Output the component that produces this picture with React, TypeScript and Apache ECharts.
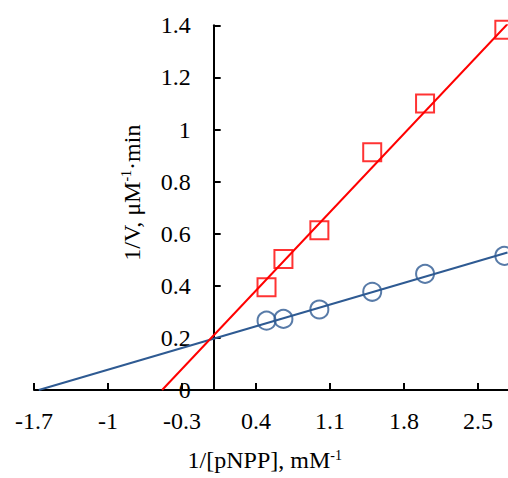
import React, { useEffect, useRef } from 'react';
import * as echarts from 'echarts';

// data
const xValues = [0.5, 0.66, 1, 1.5, 2, 2.75];
const controlY = [0.266, 0.273, 0.309, 0.377, 0.446, 0.515];
const inhibitorY = [0.394, 0.503, 0.613, 0.913, 1.1, 1.383];
const controlFitX = [-1.655, 2.78];
const controlFitY = [0, 0.528];
const inhibitorFitX = [-0.488, 2.78];
const inhibitorFitY = [0, 1.405];
const xTickValues = [-1.7, -1, -0.3, 0.4, 1.1, 1.8, 2.5];
const xMin = -1.7;
const xMax = 2.78;

const FONT = "'Liberation Serif', 'Times New Roman', serif";
const BLUE = '#2E5A92';
const RED = '#FF0000';
const GRID_LEFT = 34;
const GRID_RIGHT = 0.5;
const WIDTH = 508;

const pairs = (xs: number[], ys: number[]) => xs.map((x, i) => [x, ys[i]]);

export default function App() {
  const ref = useRef<HTMLDivElement>(null);
  useEffect(() => {
    if (!ref.current) return;
    const chart = echarts.init(ref.current, undefined, { renderer: 'svg' });
    const rich = {
      a: { fontSize: 24, fontFamily: FONT, color: '#000' },
      s: { fontSize: 14, fontFamily: FONT, color: '#000', verticalAlign: 'top' as const },
    };
    // shift the y axis so that it sits at x = 0
    const plotW = WIDTH - GRID_LEFT - GRID_RIGHT;
    const yOffset = -((0 - xMin) / (xMax - xMin)) * plotW;
    chart.setOption({
      animation: false,
      grid: { left: GRID_LEFT, right: GRID_RIGHT, top: 25.3, bottom: 88, containLabel: false, outerBoundsMode: 'none' },
      xAxis: {
        type: 'value',
        min: xMin,
        max: xMax,
        splitLine: { show: false },
        axisLine: { onZero: false, lineStyle: { color: '#000', width: 2 } },
        axisTick: { inside: true, length: 7, customValues: xTickValues, lineStyle: { color: '#000', width: 2 } },
        axisLabel: { customValues: xTickValues, margin: 19, fontSize: 24, fontFamily: FONT, color: '#000' },
        name: '{a|1/[pNPP], mM}{s|-1}',
        nameLocation: 'middle',
        nameGap: 58,
        nameTextStyle: { rich, padding: [0, 12, 0, 0] },
      },
      yAxis: {
        type: 'value',
        min: 0,
        max: 1.4,
        interval: 0.2,
        offset: yOffset,
        splitLine: { show: false },
        axisLine: { onZero: false, lineStyle: { color: '#000', width: 2 } },
        axisTick: { inside: true, length: 7, lineStyle: { color: '#000', width: 2 } },
        axisLabel: { margin: 23, fontSize: 24, fontFamily: FONT, color: '#000' },
        name: '{a|1/V, μM}{s|-1}{a|·min}',
        nameLocation: 'middle',
        nameRotate: 90,
        nameGap: 70,
        nameTextStyle: { rich, padding: [0, 0, 0, 30] },
      },
      series: [
        {
          type: 'line',
          data: pairs(controlFitX, controlFitY),
          showSymbol: false,
          lineStyle: { color: BLUE, width: 2 },
          silent: true,
        },
        {
          type: 'line',
          data: pairs(inhibitorFitX, inhibitorFitY),
          showSymbol: false,
          lineStyle: { color: RED, width: 2 },
          silent: true,
        },
        {
          type: 'scatter',
          data: pairs(xValues, controlY),
          symbol: 'circle',
          symbolSize: 18,
          itemStyle: { color: 'transparent', borderColor: BLUE, borderWidth: 2 },
        },
        {
          type: 'scatter',
          data: pairs(xValues, inhibitorY),
          symbol: 'rect',
          symbolSize: 18,
          itemStyle: { color: 'transparent', borderColor: RED, borderWidth: 2 },
        },
      ],
    });
    return () => chart.dispose();
  }, []);
  return (
    <div
      ref={ref}
      style={{ position: 'fixed', left: 0, top: 0, width: WIDTH, height: 478, background: '#fff' }}
    />
  );
}
